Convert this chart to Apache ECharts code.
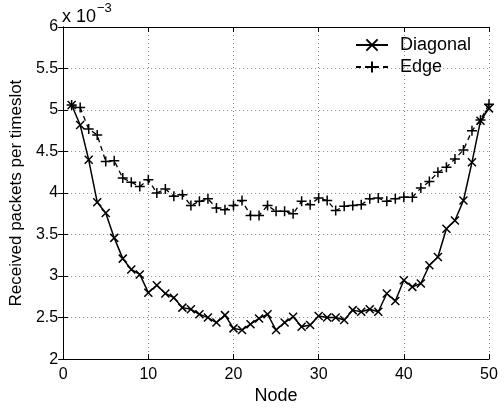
<!DOCTYPE html>
<html>
<head>
<meta charset="utf-8">
<script src="https://cdn.jsdelivr.net/npm/echarts@6/dist/echarts.min.js"></script>
<style>
  html, body { margin: 0; padding: 0; background: #fff; }
  #chart { width: 504px; height: 410px; }
</style>
</head>
<body>
<div id="chart"></div>
<script>
var nodes = [1, 2, 3, 4, 5, 6, 7, 8, 9, 10, 11, 12, 13, 14, 15, 16, 17, 18, 19, 20,
  21, 22, 23, 24, 25, 26, 27, 28, 29, 30, 31, 32, 33, 34, 35, 36, 37, 38, 39, 40,
  41, 42, 43, 44, 45, 46, 47, 48, 49, 50];
// received packets per timeslot, in units of 1e-3
var diagonal = [5.06, 4.82, 4.40, 3.89, 3.76, 3.46, 3.21, 3.08, 3.02, 2.80,
  2.89, 2.79, 2.74, 2.62, 2.60, 2.54, 2.50, 2.44, 2.53, 2.37,
  2.35, 2.42, 2.49, 2.54, 2.35, 2.44, 2.51, 2.39, 2.41, 2.52,
  2.50, 2.50, 2.47, 2.59, 2.57, 2.60, 2.57, 2.79, 2.70, 2.95,
  2.87, 2.91, 3.13, 3.23, 3.57, 3.67, 3.91, 4.37, 4.87, 5.02];
var edge = [5.06, 5.03, 4.77, 4.70, 4.38, 4.39, 4.18, 4.13, 4.08, 4.16,
  4.00, 4.05, 3.96, 3.98, 3.85, 3.90, 3.93, 3.82, 3.80, 3.85,
  3.91, 3.73, 3.73, 3.85, 3.78, 3.78, 3.75, 3.90, 3.86, 3.94,
  3.91, 3.79, 3.84, 3.85, 3.86, 3.93, 3.94, 3.90, 3.93, 3.95,
  3.95, 4.06, 4.14, 4.25, 4.31, 4.41, 4.52, 4.75, 4.88, 5.07];

function pairs(vals) {
  return nodes.map(function (n, i) { return [n, vals[i]]; });
}

var font = 'Liberation Sans, Arial, Helvetica, sans-serif';
var myChart = echarts.init(document.getElementById('chart'));
var option = {
  backgroundColor: '#fff',
  animation: false,
  textStyle: { fontFamily: font, color: '#000' },
  grid: { left: 62, right: 15, top: 27, bottom: 47 },
  graphic: [
    { type: 'text', left: 62, top: 8, style: { text: 'x 10', font: '18px ' + font, fill: '#000' } },
    { type: 'text', left: 97, top: 2, style: { text: '\u22123', font: '13px ' + font, fill: '#000' } }
  ],
  legend: {
    orient: 'vertical',
    left: 350,
    top: 31,
    itemWidth: 32,
    itemHeight: 14,
    itemGap: 4,
    textStyle: { fontSize: 18, fontFamily: font, color: '#000', padding: [0, 0, 0, 7] },
    data: ['Diagonal', 'Edge']
  },
  xAxis: [{
    type: 'value',
    min: 0, max: 50, interval: 10,
    name: 'Node',
    nameLocation: 'middle',
    nameGap: 21,
    nameTextStyle: { fontSize: 18, color: '#000' },
    axisLine: { show: true, lineStyle: { color: '#000', width: 1 } },
    axisTick: { show: true, inside: true, length: 5, lineStyle: { color: '#000' } },
    axisLabel: { fontSize: 16, color: '#000', margin: 7 },
    splitLine: { show: true, lineStyle: { color: '#888', type: [1, 3], width: 1 } }
  }, {
    type: 'value', position: 'top',
    min: 0, max: 50, interval: 10,
    axisLine: { show: true, lineStyle: { color: '#000', width: 1 } },
    axisTick: { show: true, inside: true, length: 5, lineStyle: { color: '#000' } },
    axisLabel: { show: false },
    splitLine: { show: false }
  }],
  yAxis: [{
    type: 'value',
    min: 2, max: 6, interval: 0.5,
    name: 'Received packets per timeslot',
    nameLocation: 'middle',
    nameGap: 29,
    nameTextStyle: { fontSize: 17, color: '#000' },
    axisLine: { show: true, lineStyle: { color: '#000', width: 1 } },
    axisTick: { show: true, inside: true, length: 5, lineStyle: { color: '#000' } },
    axisLabel: { fontSize: 16, color: '#000', margin: 5 },
    splitLine: { show: true, lineStyle: { color: '#888', type: [1, 3], width: 1 } }
  }, {
    type: 'value', position: 'right',
    min: 2, max: 6, interval: 0.5,
    axisLine: { show: true, lineStyle: { color: '#000', width: 1 } },
    axisTick: { show: true, inside: true, length: 5, lineStyle: { color: '#000' } },
    axisLabel: { show: false },
    splitLine: { show: false }
  }],
  series: [
    {
      name: 'Diagonal',
      type: 'line',
      data: pairs(diagonal),
      symbol: 'path://M0,0L10,10M10,0L0,10',
      symbolSize: 8,
      lineStyle: { color: '#000', width: 1.5, type: 'solid' },
      itemStyle: { color: '#000', borderColor: '#000', borderWidth: 1.5 }
    },
    {
      name: 'Edge',
      type: 'line',
      data: pairs(edge),
      symbol: 'path://M5,0L5,10M0,5L10,5',
      symbolSize: 10,
      lineStyle: { color: '#000', width: 1.3, type: [5, 4] },
      itemStyle: { color: '#000', borderColor: '#000', borderWidth: 1.5 }
    }
  ]
};
myChart.setOption(option);
</script>
</body>
</html>
